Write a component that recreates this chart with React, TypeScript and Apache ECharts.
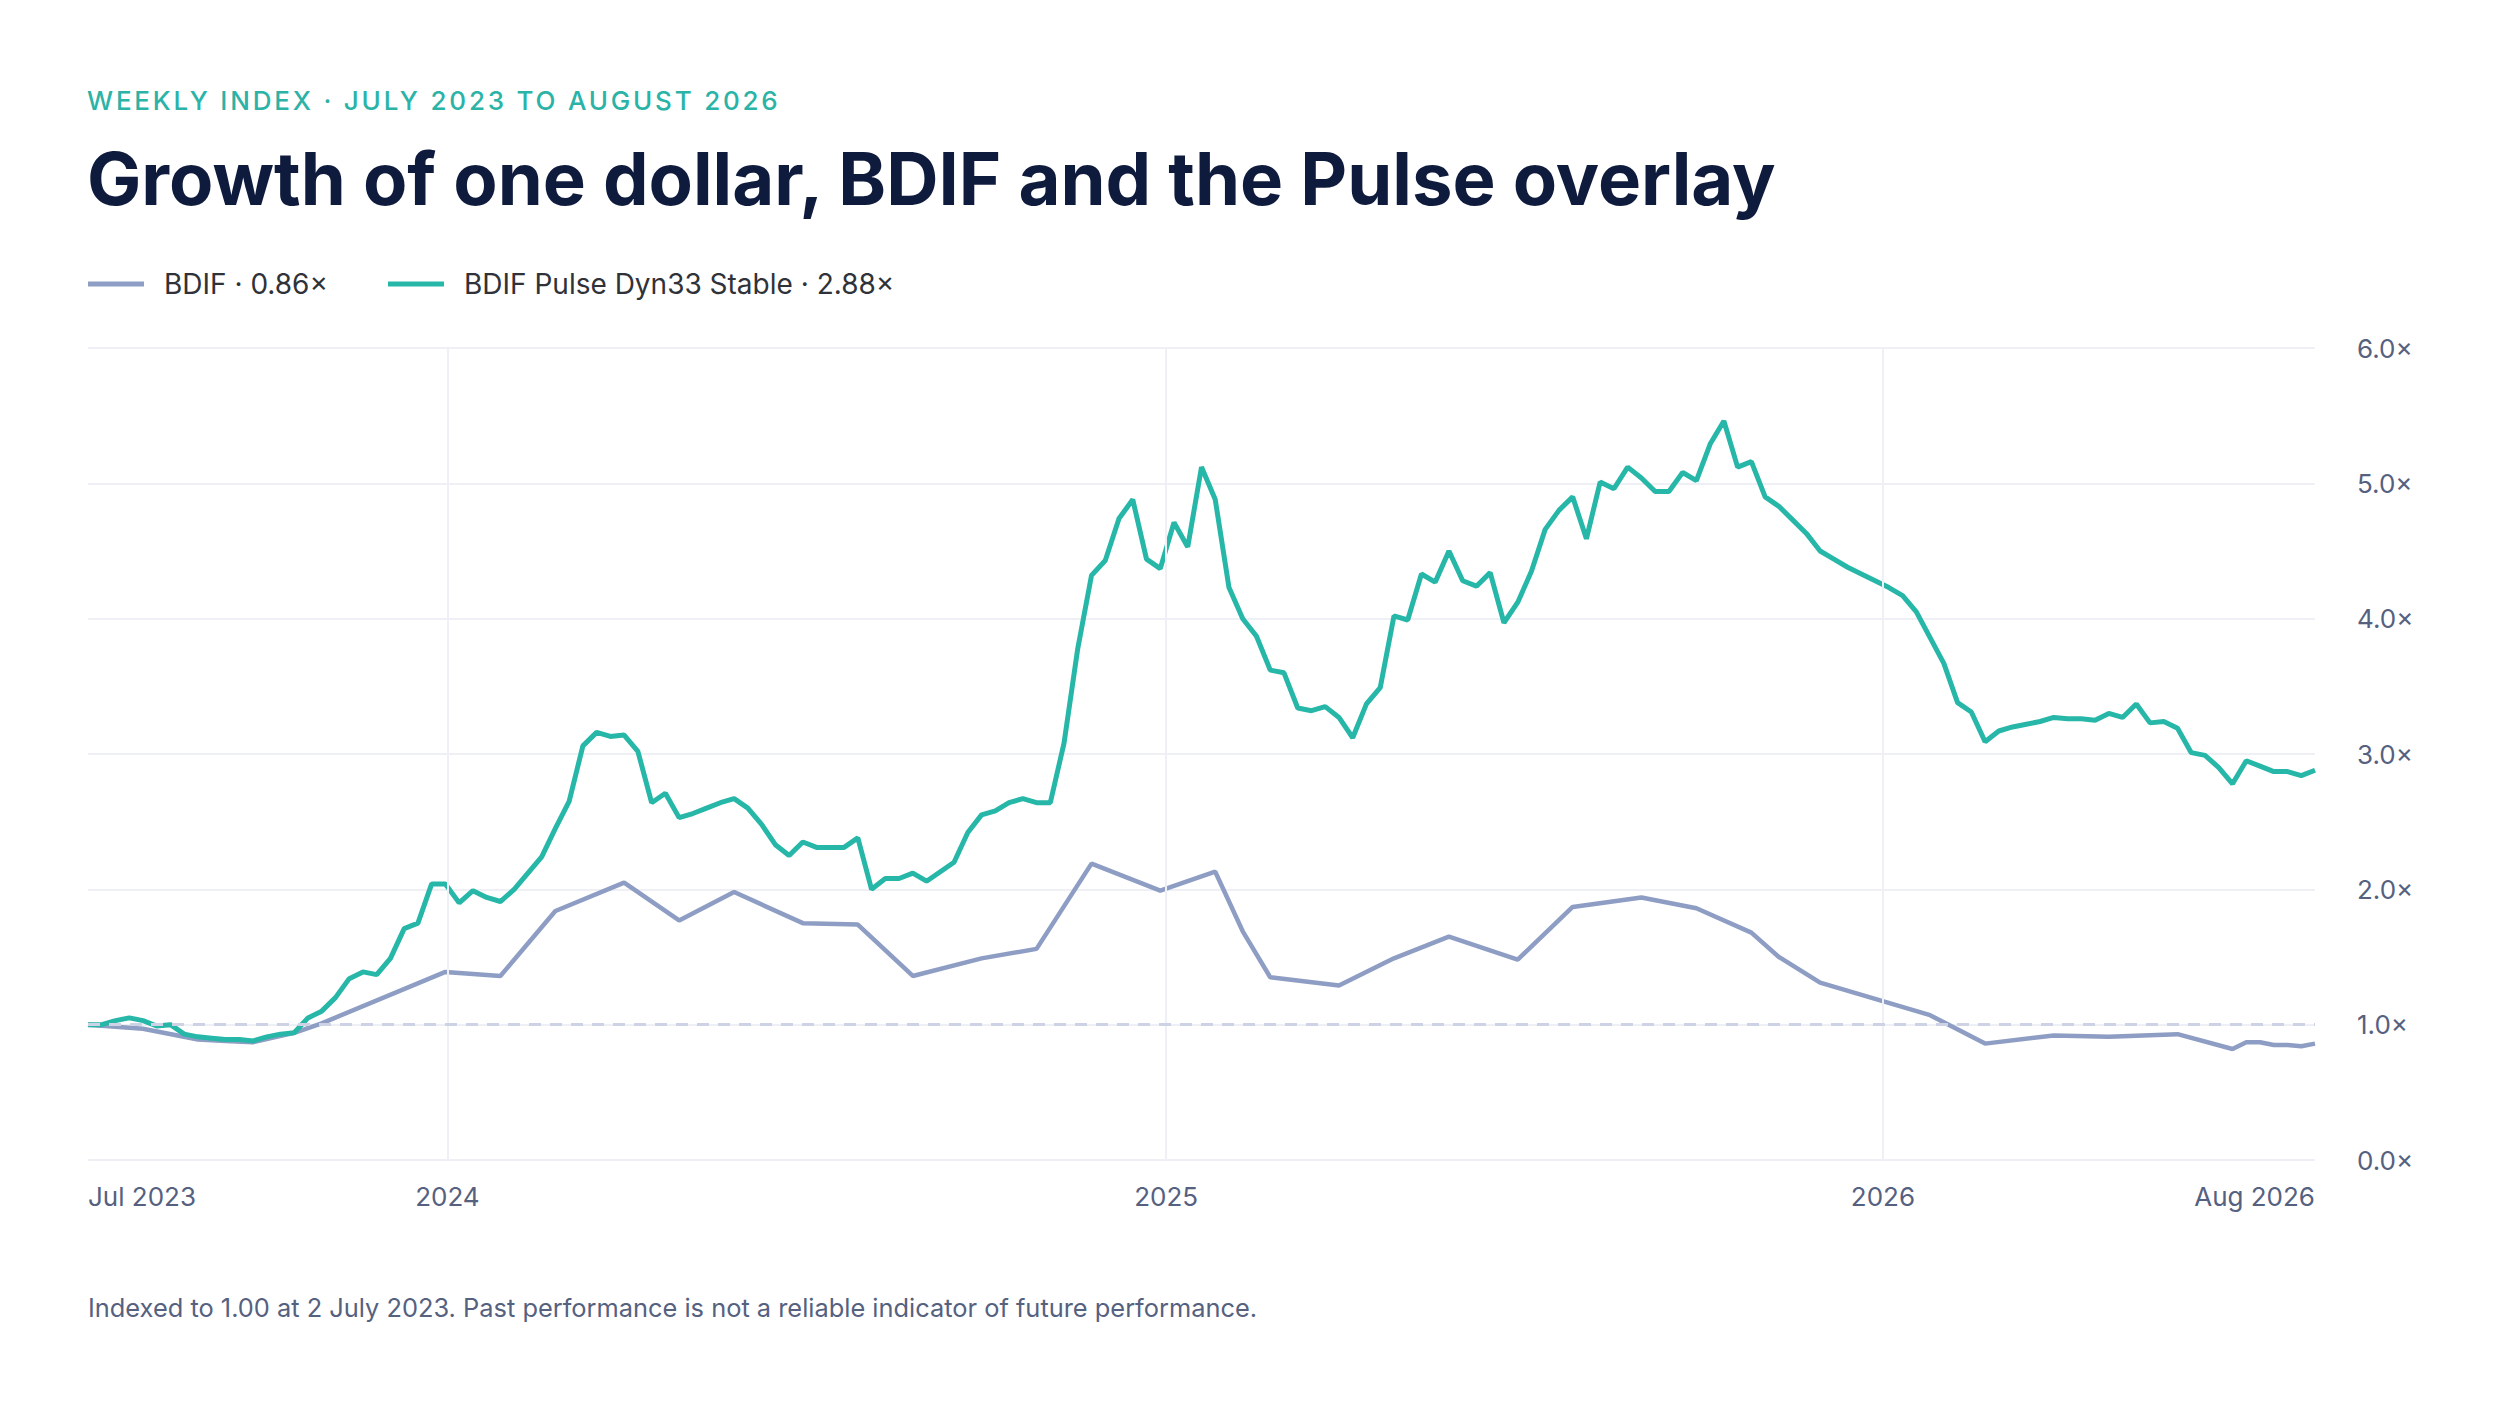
import React, { useEffect, useRef } from "react";
import * as echarts from "echarts";

// ---- data ----
const START_UTC = Date.UTC(2023, 6, 2); // 2 July 2023, first weekly observation
const WEEK_MS = 7 * 86400000;

const SERIES_NAMES = ["BDIF", "BDIF Pulse Dyn33 Stable"];

// BDIF Pulse Dyn33 Stable, one value per week from 2 July 2023
const PULSE_WEEKLY = [
  1.0, 1.0, 1.03, 1.05, 1.03, 0.99, 1.0, 0.93, 0.91, 0.9,
  0.89, 0.89, 0.88, 0.91, 0.93, 0.94, 1.05, 1.1, 1.2, 1.34,
  1.39, 1.37, 1.49, 1.71, 1.75, 2.04, 2.04, 1.9, 1.99, 1.94,
  1.91, 2.0, 2.12, 2.24, 2.45, 2.65, 3.06, 3.16, 3.13, 3.14,
  3.02, 2.64, 2.71, 2.53, 2.56, 2.6, 2.64, 2.67, 2.6, 2.48,
  2.33, 2.25, 2.35, 2.31, 2.31, 2.31, 2.38, 2.0, 2.08, 2.08,
  2.12, 2.06, 2.13, 2.2, 2.42, 2.55, 2.58, 2.64, 2.67, 2.64,
  2.64, 3.08, 3.78, 4.32, 4.43, 4.74, 4.88, 4.44, 4.37, 4.71,
  4.53, 5.12, 4.88, 4.23, 4.0, 3.87, 3.62, 3.6, 3.34, 3.32,
  3.35, 3.27, 3.12, 3.37, 3.49, 4.02, 3.99, 4.33, 4.27, 4.5,
  4.28, 4.24, 4.34, 3.97, 4.12, 4.35, 4.66, 4.8, 4.9, 4.59,
  5.01, 4.96, 5.12, 5.04, 4.94, 4.94, 5.08, 5.02, 5.29, 5.46,
  5.12, 5.16, 4.9, 4.83, 4.73, 4.63, 4.5, 4.44, 4.38, 4.33,
  4.28, 4.23, 4.17, 4.05, 3.86, 3.67, 3.38, 3.31, 3.09, 3.17,
  3.2, 3.22, 3.24, 3.27, 3.26, 3.26, 3.25, 3.3, 3.27, 3.37,
  3.23, 3.24, 3.19, 3.01, 2.99, 2.9, 2.78, 2.95, 2.91, 2.87,
  2.87, 2.84, 2.88,
];

// BDIF, observations at the listed week numbers
const BDIF_WEEKS = [
  0, 4, 8, 10, 12, 15, 17, 26, 30, 34,
  39, 43, 47, 52, 56, 60, 65, 69, 73, 78,
  82, 84, 86, 91, 95, 99, 104, 108, 113, 117,
  121, 123, 126, 134, 138, 143, 147, 152, 156, 157,
  158, 159, 160, 161, 162,
];
const BDIF_VALUES = [
  1.0, 0.97, 0.89, 0.88, 0.87, 0.94, 1.01, 1.39, 1.36, 1.84,
  2.05, 1.77, 1.98, 1.75, 1.74, 1.36, 1.49, 1.56, 2.19, 1.99,
  2.13, 1.69, 1.35, 1.29, 1.49, 1.65, 1.48, 1.87, 1.94, 1.86,
  1.68, 1.5, 1.31, 1.07, 0.86, 0.92, 0.91, 0.93, 0.82, 0.87,
  0.87, 0.85, 0.85, 0.84, 0.86,
];

const YEAR_MARKS = [2024, 2025, 2026];
const Y_MIN = 0;
const Y_MAX = 6;
const Y_STEP = 1;
const BASELINE = 1;

const MONTHS = ["Jan", "Feb", "Mar", "Apr", "May", "Jun", "Jul", "Aug", "Sep", "Oct", "Nov", "Dec"];

const SUBTITLE = "WEEKLY INDEX · JULY 2023 TO AUGUST 2026";
const TITLE = "Growth of one dollar, BDIF and the Pulse overlay";
const FOOTNOTE = "Indexed to 1.00 at 2 July 2023. Past performance is not a reliable indicator of future performance.";

// ---- styles ----
const TEAL = "#27b7a8";
const SLATE = "#8e9dc3";
const NAVY = "#0f1b3d";
const AXIS_TEXT = "#55617f";
const GRID = "#eef0f5";
const FONT = "Inter, 'Noto Sans', sans-serif";
const SUBTITLE_TRACKING = 2.8;

const weekToTime = (w: number) => START_UTC + w * WEEK_MS;

export default function App() {
  const ref = useRef<HTMLDivElement>(null);

  useEffect(() => {
    const el = ref.current;
    if (!el) return;
    const chart = echarts.init(el, undefined, { renderer: "svg" });

    const pulseData = PULSE_WEEKLY.map((v, i) => [weekToTime(i), v]);
    const bdifData = BDIF_WEEKS.map((w, i) => [weekToTime(w), BDIF_VALUES[i]]);
    const endTime = weekToTime(PULSE_WEEKLY.length - 1);
    const yearTimes = YEAR_MARKS.map((y) => Date.UTC(y, 0, 1));
    const lastValues: Record<string, number> = {
      [SERIES_NAMES[0]]: BDIF_VALUES[BDIF_VALUES.length - 1],
      [SERIES_NAMES[1]]: PULSE_WEEKLY[PULSE_WEEKLY.length - 1],
    };

    // widen the tracking of the small caps kicker line once drawn
    const applyTracking = () => {
      el.querySelectorAll("text").forEach((t) => {
        if (t.textContent === SUBTITLE) t.setAttribute("letter-spacing", String(SUBTITLE_TRACKING));
      });
    };
    chart.on("finished", applyTracking);

    chart.setOption({
      animation: false,
      backgroundColor: "#ffffff",
      textStyle: { fontFamily: FONT },
      title: [
        {
          text: SUBTITLE,
          left: 87,
          top: 87,
          padding: 0,
          textStyle: { fontSize: 26, fontWeight: 500, color: "#2ab3a6", fontFamily: FONT },
        },
        {
          text: TITLE,
          left: 87,
          top: 142,
          padding: 0,
          textStyle: { fontSize: 72.4, fontWeight: 700, color: NAVY, fontFamily: FONT },
        },
        {
          text: FOOTNOTE,
          left: 88,
          top: 1295,
          padding: 0,
          textStyle: { fontSize: 25.4, fontWeight: 400, color: AXIS_TEXT, fontFamily: FONT },
        },
      ],
      legend: {
        data: SERIES_NAMES,
        left: 88,
        top: 270,
        padding: 0,
        icon: "rect",
        itemWidth: 56,
        itemHeight: 5,
        itemGap: 60,
        formatter: (name: string) => `${name} · ${lastValues[name].toFixed(2)}×`,
        textStyle: { fontSize: 28, color: "#2f3239", padding: [0, 0, 0, 15], fontFamily: FONT },
      },
      grid: { left: 88, right: 185, top: 348, bottom: 246, containLabel: false },
      xAxis: {
        type: "value",
        min: START_UTC,
        max: endTime,
        axisLine: { show: false },
        axisTick: { show: false },
        splitLine: { show: false },
        axisLabel: {
          customValues: [START_UTC, ...yearTimes, endTime],
          alignMinLabel: "left",
          alignMaxLabel: "right",
          showMinLabel: true,
          showMaxLabel: true,
          hideOverlap: false,
          margin: 23,
          fontSize: 26,
          color: AXIS_TEXT,
          fontFamily: FONT,
          formatter: (v: number) => {
            const d = new Date(v);
            if (d.getUTCMonth() === 0 && d.getUTCDate() === 1) return String(d.getUTCFullYear());
            return `${MONTHS[d.getUTCMonth()]} ${d.getUTCFullYear()}`;
          },
        },
      },
      yAxis: {
        type: "value",
        position: "right",
        min: Y_MIN,
        max: Y_MAX,
        interval: Y_STEP,
        axisLine: { show: false },
        axisTick: { show: false },
        axisLabel: {
          margin: 42,
          fontSize: 26,
          color: AXIS_TEXT,
          fontFamily: FONT,
          formatter: (v: number) => `${v.toFixed(1)}×`,
        },
        splitLine: { show: true, lineStyle: { color: GRID, width: 2 } },
      },
      series: [
        {
          name: "guides",
          type: "line",
          data: [],
          z: 1,
          silent: true,
          markLine: {
            silent: true,
            symbol: ["none", "none"],
            label: { show: false },
            animation: false,
            data: [
              ...yearTimes.map((t) => ({
                xAxis: t,
                lineStyle: { color: GRID, width: 2, type: "solid" },
              })),
              {
                yAxis: BASELINE,
                lineStyle: { color: "#cdd3e4", width: 3, type: [12, 9] },
              },
            ],
          },
        },
        {
          name: SERIES_NAMES[0],
          type: "line",
          data: bdifData,
          showSymbol: false,
          symbol: "none",
          z: 3,
          color: SLATE,
          lineStyle: { color: SLATE, width: 4.5 },
        },
        {
          name: SERIES_NAMES[1],
          type: "line",
          data: pulseData,
          showSymbol: false,
          symbol: "none",
          z: 4,
          color: TEAL,
          lineStyle: { color: TEAL, width: 5 },
        },
      ],
    });
    applyTracking();
    const raf = requestAnimationFrame(applyTracking);

    return () => {
      cancelAnimationFrame(raf);
      chart.dispose();
    };
  }, []);

  return (
    <div
      ref={ref}
      style={{ position: "absolute", left: 0, top: 0, width: 2500, height: 1406, background: "#fff" }}
    />
  );
}
